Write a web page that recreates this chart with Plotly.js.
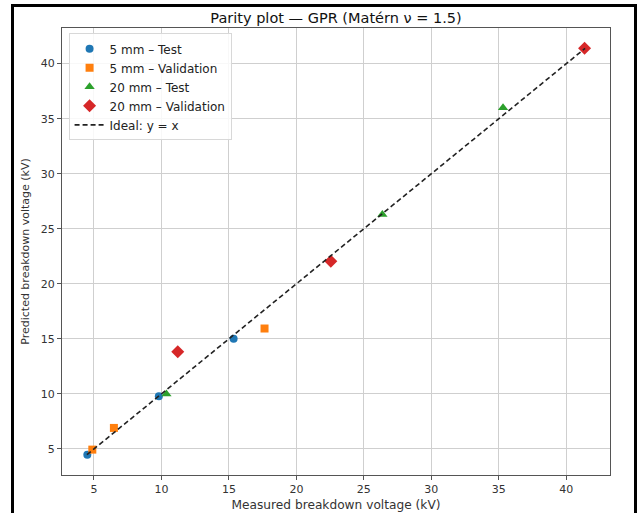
<!DOCTYPE html>
<html>
<head>
<meta charset="utf-8">
<script src="https://cdn.plot.ly/plotly-3.0.1.min.js"></script>
<style>
html,body{margin:0;padding:0;background:#fff;}
#chart{width:641px;height:513px;}
#frame{position:absolute;left:11px;top:4px;width:620px;height:530px;border:3px solid #000;pointer-events:none;}
</style>
</head>
<body>
<div id="chart"></div>
<div id="frame"></div>
<script>
const test5_x = [4.51, 9.81, 15.35];
const test5_y = [4.48, 9.78, 15.0];
const val5_x = [4.88, 6.48, 17.64];
const val5_y = [4.94, 6.91, 15.94];
const test20_x = [10.37, 26.37, 35.31];
const test20_y = [10.0, 26.3, 36.0];
const val20_x = [11.21, 22.55, 41.35];
const val20_y = [13.82, 22.05, 41.39];
const seriesNames = ['5 mm – Test', '5 mm – Validation', '20 mm – Test', '20 mm – Validation', 'Ideal: y = x'];
const xTicks = [5, 10, 15, 20, 25, 30, 35, 40];
const yTicks = [5, 10, 15, 20, 25, 30, 35, 40];

const allVals = [].concat(test5_x, test5_y, val5_x, val5_y, test20_x, test20_y, val20_x, val20_y);
const lo = Math.min(...allVals), hi = Math.max(...allVals);
const pad = (hi - lo) * 0.05;
const range = [lo - pad, hi + pad];

const font = "DejaVu Sans, sans-serif";
const traces = [
  {x: test5_x, y: test5_y, name: seriesNames[0], mode: 'markers', type: 'scatter',
   marker: {symbol: 'circle', size: 8, color: '#1f77b4'}},
  {x: val5_x, y: val5_y, name: seriesNames[1], mode: 'markers', type: 'scatter',
   marker: {symbol: 'square', size: 8, color: '#ff7f0e'}},
  {x: test20_x, y: test20_y, name: seriesNames[2], mode: 'markers', type: 'scatter',
   marker: {symbol: 'triangle-up', size: 9, color: '#2ca02c'}},
  {x: val20_x, y: val20_y, name: seriesNames[3], mode: 'markers', type: 'scatter',
   marker: {symbol: 'diamond', size: 10, color: '#d62728'}},
  {x: [lo, hi], y: [lo, hi], name: seriesNames[4], mode: 'lines', type: 'scatter',
   line: {color: '#222', width: 1.6, dash: '5px,3px'}}
];

const layout = {
  width: 641, height: 513,
  margin: {l: 62, r: 31, t: 28, b: 38, pad: 0},
  paper_bgcolor: '#fff', plot_bgcolor: '#fff',
  font: {family: font, size: 11, color: '#222'},
  title: {text: 'Parity plot — GPR (Matérn ν = 1.5)', font: {family: font, size: 14.5, color: '#111'},
          x: 0.5, xanchor: 'center', y: 0.966, yanchor: 'middle', xref: 'paper'},
  xaxis: {range: range, tickvals: xTicks, ticktext: xTicks.map(String), showgrid: true,
          gridcolor: '#cfcfcf', gridwidth: 1, zeroline: false, showline: true, mirror: true,
          linecolor: '#555', linewidth: 1, ticks: 'outside', ticklen: 4, tickcolor: '#555',
          tickfont: {size: 11, color: '#333'},
          title: {text: 'Measured breakdown voltage (kV)', font: {size: 12.2, color: '#333'}, standoff: 5}},
  yaxis: {range: range, tickvals: yTicks, ticktext: yTicks.map(String), showgrid: true,
          gridcolor: '#cfcfcf', gridwidth: 1, zeroline: false, showline: true, mirror: true,
          linecolor: '#555', linewidth: 1, ticks: 'outside', ticklen: 4, tickcolor: '#555',
          tickfont: {size: 11, color: '#333'},
          title: {text: 'Predicted breakdown voltage (kV)', font: {size: 11, color: '#333'}, standoff: 8}},
  legend: {x: 0.012, y: 0.988, xanchor: 'left', yanchor: 'top', bgcolor: 'rgba(255,255,255,0.85)',
           bordercolor: '#d8d8d8', borderwidth: 1, font: {size: 12, color: '#222'},
           tracegroupgap: 0, itemwidth: 30},
  showlegend: true
};

Plotly.newPlot('chart', traces, layout, {displayModeBar: false, staticPlot: true});
</script>
</body>
</html>
